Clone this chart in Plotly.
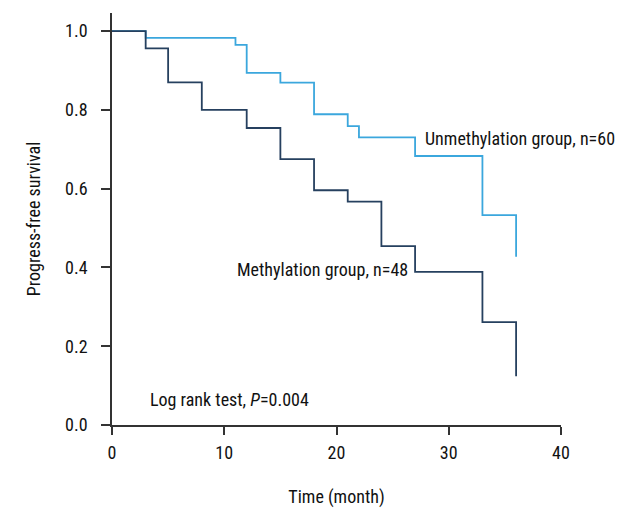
import plotly.graph_objects as go

# Methylation group (n=48)
meth_time = [0, 3, 5, 8, 12, 15, 18, 21, 24, 27, 33, 36]
meth_surv = [1.0, 0.956, 0.870, 0.800, 0.754, 0.675, 0.596, 0.567, 0.454, 0.389, 0.261, 0.124]

# Unmethylation group (n=60)
unmeth_time = [0, 3, 11, 12, 15, 18, 21, 22, 27, 33, 36]
unmeth_surv = [1.0, 0.983, 0.965, 0.894, 0.869, 0.789, 0.759, 0.730, 0.683, 0.533, 0.427]

x_ticks = [0, 10, 20, 30, 40]
y_ticks = [0.0, 0.2, 0.4, 0.6, 0.8, 1.0]
y_tick_labels = ["0.0", "0.2", "0.4", "0.6", "0.8", "1.0"]

FONT = "Roboto Condensed, Liberation Sans Narrow, sans-serif"
DARK = "#26405f"
LIGHT = "#3ba7dd"
TEXT = "#111111"

fig = go.Figure()
fig.add_trace(go.Scatter(x=unmeth_time, y=unmeth_surv, mode="lines",
                         line=dict(shape="hv", color=LIGHT, width=1.8),
                         showlegend=False, hoverinfo="skip"))
fig.add_trace(go.Scatter(x=meth_time, y=meth_surv, mode="lines",
                         line=dict(shape="hv", color=DARK, width=1.8),
                         showlegend=False, hoverinfo="skip"))

fig.add_annotation(x=27.7, y=0.728, text="Unmethylation group, n=60",
                   showarrow=False, xanchor="left", yanchor="middle",
                   font=dict(size=18, color=TEXT, family=FONT))
fig.add_annotation(x=10.97, y=0.396, text="Methylation group, n=48",
                   showarrow=False, xanchor="left", yanchor="middle",
                   font=dict(size=18, color=TEXT, family=FONT))
fig.add_annotation(x=3.17, y=0.066, text="Log rank test, <i>P</i>=0.004",
                   showarrow=False, xanchor="left", yanchor="middle",
                   font=dict(size=18, color=TEXT, family=FONT))

fig.update_layout(
    width=632, height=512,
    margin=dict(l=104, r=79, t=5, b=95),
    paper_bgcolor="white", plot_bgcolor="white",
    font=dict(family=FONT, size=18, color=TEXT),
    xaxis=dict(range=[0, 40], tickvals=x_ticks, showgrid=False, zeroline=False,
               showline=True, linecolor="#333333", linewidth=1.5,
               ticks="outside", ticklen=8, tickcolor="#333333", tickwidth=1.5,
               ticklabelstandoff=3, automargin=False,
               title=dict(text="Time (month)", standoff=28,
                          font=dict(size=18, family=FONT))),
    yaxis=dict(range=[0, 1.046], tickvals=y_ticks, ticktext=y_tick_labels,
               showgrid=False, zeroline=False,
               showline=True, linecolor="#333333", linewidth=1.5,
               ticks="outside", ticklen=9, tickcolor="#333333", tickwidth=1.5,
               ticklabelstandoff=10, automargin=False,
               title=dict(text="Progress-free survival", standoff=20,
                          font=dict(size=18, family=FONT))),
)

fig.write_html("out.html")
